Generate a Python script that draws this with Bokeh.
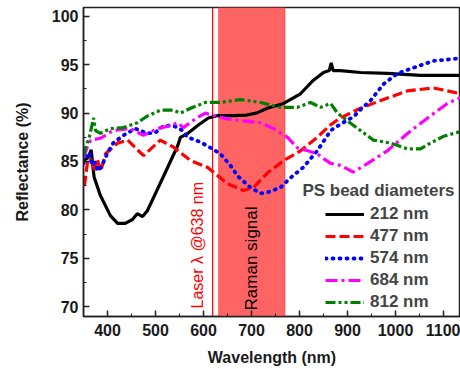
import math
from bokeh.plotting import figure
from bokeh.models import (Range1d, SingleIntervalTicker, Legend, LegendItem,
                          BoxAnnotation, Span, ColumnDataSource, Label)
from bokeh.core.properties import value
from bokeh.embed import file_html
from bokeh.resources import INLINE

# ---- data ----
black_x = [350, 360, 366, 372, 385, 406, 421, 437, 452, 462, 473, 483, 500, 517, 531, 546, 552, 567,
           590, 610, 630, 660, 690, 710, 733, 767, 802, 829, 850, 862, 866, 870, 885, 927, 983, 1052, 1135]
black_y = [85.1, 85.4, 86.2, 83.4, 81.5, 79.4, 78.6, 78.6, 79.0, 79.6, 79.3, 79.9, 81.7, 83.5, 85.0, 86.6,
           87.5, 87.9, 88.8, 89.5, 89.75, 89.75, 89.8, 90.0, 90.5, 91.0, 92.0, 93.4, 94.2, 94.4, 95.2, 94.4,
           94.4, 94.2, 94.1, 93.9, 93.9]

red_x = [352, 358, 365, 372, 378, 386, 396, 421, 442, 475, 510, 537, 573, 608, 650, 683, 704, 733, 767,
         802, 837, 865, 885, 927, 969, 1025, 1079, 1108, 1135]
red_y = [82.5, 84.8, 85.3, 84.0, 85.3, 84.0, 85.8, 86.9, 87.2, 85.6, 87.2, 86.5, 85.1, 84.4, 82.7, 82.0,
         82.3, 83.8, 85.1, 86.1, 87.5, 88.8, 89.5, 90.5, 91.3, 92.3, 92.6, 92.3, 92.0]

blue_x = [350, 356, 362, 368, 374, 380, 388, 400, 412, 433, 458, 483, 500, 517, 537, 546, 556, 567, 594,
          615, 635, 656, 671, 698, 719, 733, 760, 781, 808, 837, 865, 890, 912, 930, 948, 975, 1004, 1038,
          1079, 1121, 1135]
blue_y = [84.8, 85.6, 85.9, 84.6, 84.9, 84.0, 84.5, 85.9, 86.9, 87.7, 88.4, 87.9, 88.0, 88.7, 88.7, 88.5,
          88.2, 87.5, 87.0, 86.4, 85.8, 84.6, 83.5, 82.3, 81.7, 81.8, 82.3, 83.3, 84.4, 86.1, 88.2, 89.0,
          89.6, 90.5, 91.3, 93.0, 94.1, 94.7, 95.4, 95.6, 95.7]

mag_x = [350, 358, 365, 385, 412, 448, 475, 504, 531, 546, 558, 583, 604, 621, 650, 683, 719, 746, 775,
         796, 817, 837, 850, 865, 885, 912, 942, 983, 1025, 1067, 1108, 1135]
mag_y = [85.4, 86.5, 87.2, 87.4, 88.2, 88.4, 87.7, 88.4, 88.7, 89.0, 88.5, 89.4, 90.0, 89.75, 89.4, 89.2,
         89.0, 88.4, 87.5, 86.4, 86.1, 85.8, 85.3, 84.8, 84.6, 83.9, 84.8, 86.1, 87.9, 89.5, 91.0, 91.6]

green_x = [350, 354, 362, 368, 371, 375, 385, 406, 433, 462, 483, 510, 537, 552, 573, 604, 635, 677, 719,
           760, 796, 823, 844, 865, 879, 900, 927, 954, 990, 1025, 1052, 1073, 1100, 1135]
green_y = [85.6, 86.4, 87.5, 88.8, 89.5, 88.2, 87.9, 88.4, 88.5, 89.0, 89.7, 90.3, 90.3, 90.0, 90.5, 91.1,
           91.1, 91.4, 91.1, 90.6, 90.6, 91.1, 90.6, 91.0, 90.0, 89.2, 88.2, 87.2, 86.9, 86.3, 86.3, 86.9,
           87.6, 88.1]

series_labels = ["212 nm", "477 nm", "574 nm", "684 nm", "812 nm"]
legend_title = "PS bead diameters"
laser_nm = 619
raman_band = [631, 770]
laser_text = "Laser \u03bb @638 nm"
raman_text = "Raman signal"
x_lim = [350, 1135.4]
y_lim = [68.97, 100.92]

FONT = "Liberation Sans"

p = figure(width=460, height=369, output_backend="svg", toolbar_location=None,
           x_range=Range1d(*x_lim), y_range=Range1d(*y_lim),
           min_border_left=83, min_border_right=0, min_border_top=7, min_border_bottom=53)
p.grid.visible = False
p.outline_line_color = "#222222"
p.outline_line_width = 1.5
p.background_fill_color = "white"

# Raman band and laser line
p.add_layout(BoxAnnotation(left=raman_band[0], right=raman_band[1], fill_color="#FF6464",
                           fill_alpha=1.0, line_color="#FF0000", line_width=1, level="underlay"))
p.add_layout(Span(location=laser_nm, dimension="height", line_color="#FF0000",
                  line_width=1.2, level="underlay"))

lw = 3.2
r1 = p.line(black_x, black_y, line_color="black", line_width=lw)
r2 = p.line(red_x, red_y, line_color="#FF0000", line_width=lw, line_dash="10 4")
r3 = p.line(blue_x, blue_y, line_color="#0000FF", line_width=3.8, line_dash="1 6", line_cap="round")
r4 = p.line(mag_x, mag_y, line_color="#FF00FF", line_width=lw, line_dash="12 4 3 4")
r5 = p.line(green_x, green_y, line_color="#008000", line_width=lw, line_dash="10 3 3 3 3 3")

# rotated texts
txt_src = ColumnDataSource(dict(x=[588, 699], y=[69.8, 69.6], t=[laser_text, raman_text],
                                c=["#FF0000", "black"], s=["16px", "17px"]))
p.text(x="x", y="y", text="t", source=txt_src, angle=math.pi / 2, text_align="left",
       text_baseline="middle", text_font=value(FONT), text_font_size="s", text_color="c")

# axes
for ax in (p.xaxis[0], p.yaxis[0]):
    ax.major_label_text_font = FONT
    ax.major_label_text_font_style = "bold"
    ax.major_label_text_font_size = "16px"
    ax.major_label_text_color = "#1a1a1a"
    ax.axis_label_text_font = FONT
    ax.axis_label_text_font_style = "bold"
    ax.axis_label_text_font_size = "16px"
    ax.axis_label_text_color = "#1a1a1a"
    ax.axis_line_width = 1.5
    ax.axis_line_color = "#222222"
    ax.major_tick_in = 6
    ax.major_tick_out = 0
    ax.minor_tick_in = 3
    ax.minor_tick_out = 0
    ax.major_tick_line_width = 1.5
    ax.major_tick_line_color = "#222222"
    ax.minor_tick_line_color = "#222222"

p.xaxis[0].ticker = SingleIntervalTicker(interval=100, num_minor_ticks=2)
p.yaxis[0].ticker = SingleIntervalTicker(interval=5, num_minor_ticks=2)
p.xaxis[0].axis_label = "Wavelength (nm)"
p.yaxis[0].axis_label = "Reflectance (%)"
p.xaxis[0].major_label_standoff = 7
p.yaxis[0].major_label_standoff = 5
p.xaxis[0].axis_label_standoff = 10
p.yaxis[0].axis_label_standoff = 18

# legend
items = [LegendItem(label=l, renderers=[r]) for l, r in zip(series_labels, [r1, r2, r3, r4, r5])]
leg = Legend(items=items, location=(242, 4), padding=0, margin=0, spacing=2,
             glyph_width=39, glyph_height=20, label_height=20, label_standoff=6,
             label_text_font=FONT, label_text_font_style="bold", label_text_font_size="17px",
             background_fill_alpha=0, border_line_alpha=0)
p.add_layout(leg)
p.add_layout(Label(x=806, y=82.0, text=legend_title, text_font=FONT, text_font_style="bold",
                   text_font_size="17px", text_baseline="middle", text_align="left"))

open("out.html", "w").write(file_html(p, INLINE))
